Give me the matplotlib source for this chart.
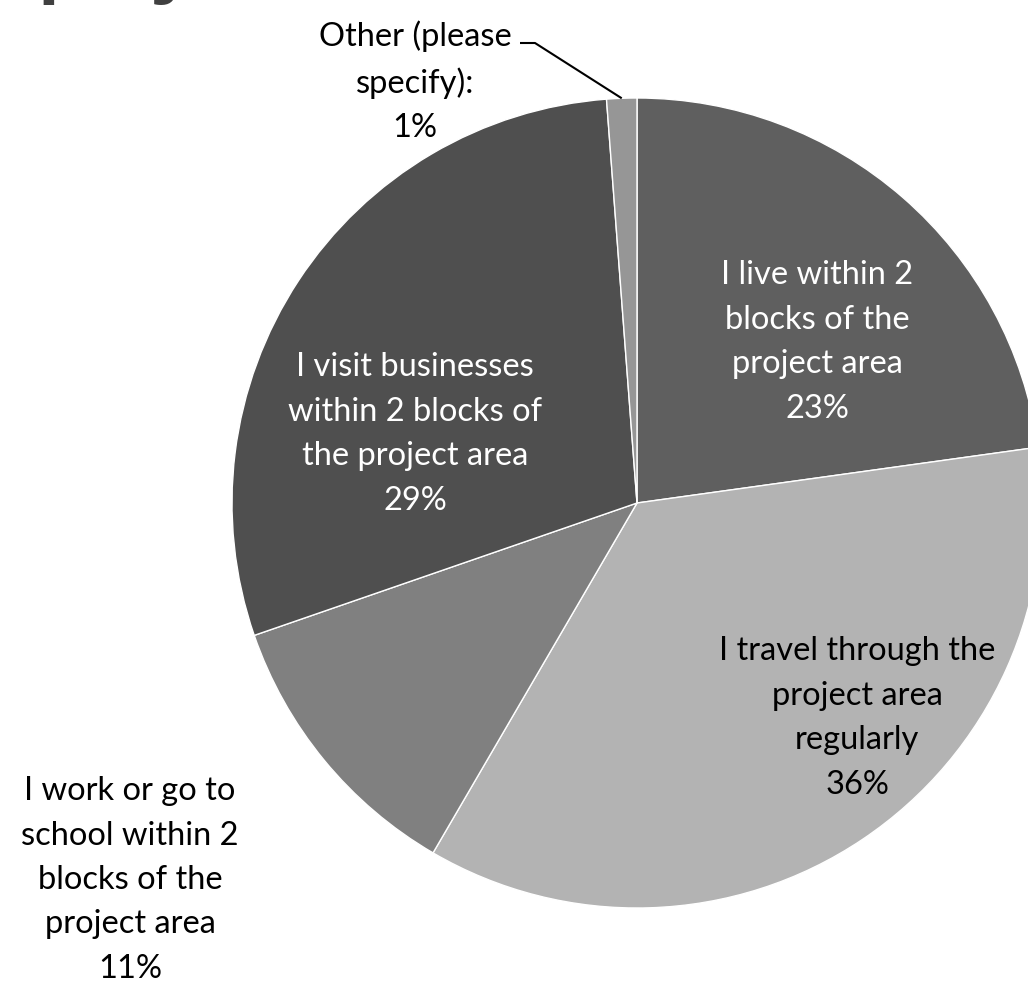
import numpy as np
import matplotlib.pyplot as plt

# slice data, clockwise from 12 o'clock
labels = ["I live within 2\nblocks of the\nproject area",
          "I travel through the\nproject area\nregularly",
          "I work or go to\nschool within 2\nblocks of the\nproject area",
          "I visit businesses\nwithin 2 blocks of\nthe project area",
          "Other (please\nspecify):"]
shares = [22.8, 35.6, 11.3, 29.1, 1.2]
colors = ["#5f5f5f", "#b3b3b3", "#808080", "#4f4f4f", "#969696"]
text_colors = ["white", "black", "black", "white", "black"]

W, H = 1028, 998
CX, CY, R = 637, 503, 405


def px(x, y):
    # pixel position -> data coords (pie centred at 0,0 with radius 1)
    return (x - CX) / R, (CY - y) / R


fig = plt.figure(figsize=(W / 100, H / 100), dpi=100)
ax = fig.add_axes([0, 0, 1, 1])

wedges, _ = ax.pie(shares, colors=colors, startangle=90, counterclock=False,
                   radius=1, wedgeprops=dict(edgecolor="white", linewidth=1))
ax.set_aspect("auto")
ax.set_xlim(-CX / R, (W - CX) / R)
ax.set_ylim((CY - H) / R, CY / R)
ax.axis("off")

font = "Lato"
fs = 23.5
label_pos = [(817, 342), (857, 718), (130, 880), (415, 434), (415, 82)]
for lab, val, (lx, ly), tc in zip(labels, shares, label_pos, text_colors):
    x, y = px(lx, ly)
    ax.text(x, y, f"{lab}\n{val:.0f}%", ha="center", va="center", color=tc,
            fontsize=fs, family=font, linespacing=1.6)

# leader line for the small "Other" slice
w = wedges[-1]
mid = np.deg2rad((w.theta1 + w.theta2) / 2)
ex, ey = np.cos(mid), np.sin(mid)
sx, sy = px(520, 43)
kx, ky = px(535, 43)
ax.plot([sx, kx, ex], [sy, ky, ey], color="black", lw=1.5, solid_capstyle="butt")

# title cut off at the top edge of the picture
fig.text(37 / W, 1 + 12 / H, "project", ha="left", va="baseline",
         fontsize=52, fontweight="bold", family="Open Sans", color="#404040")

fig.savefig("out.png", dpi=100, facecolor="white")
